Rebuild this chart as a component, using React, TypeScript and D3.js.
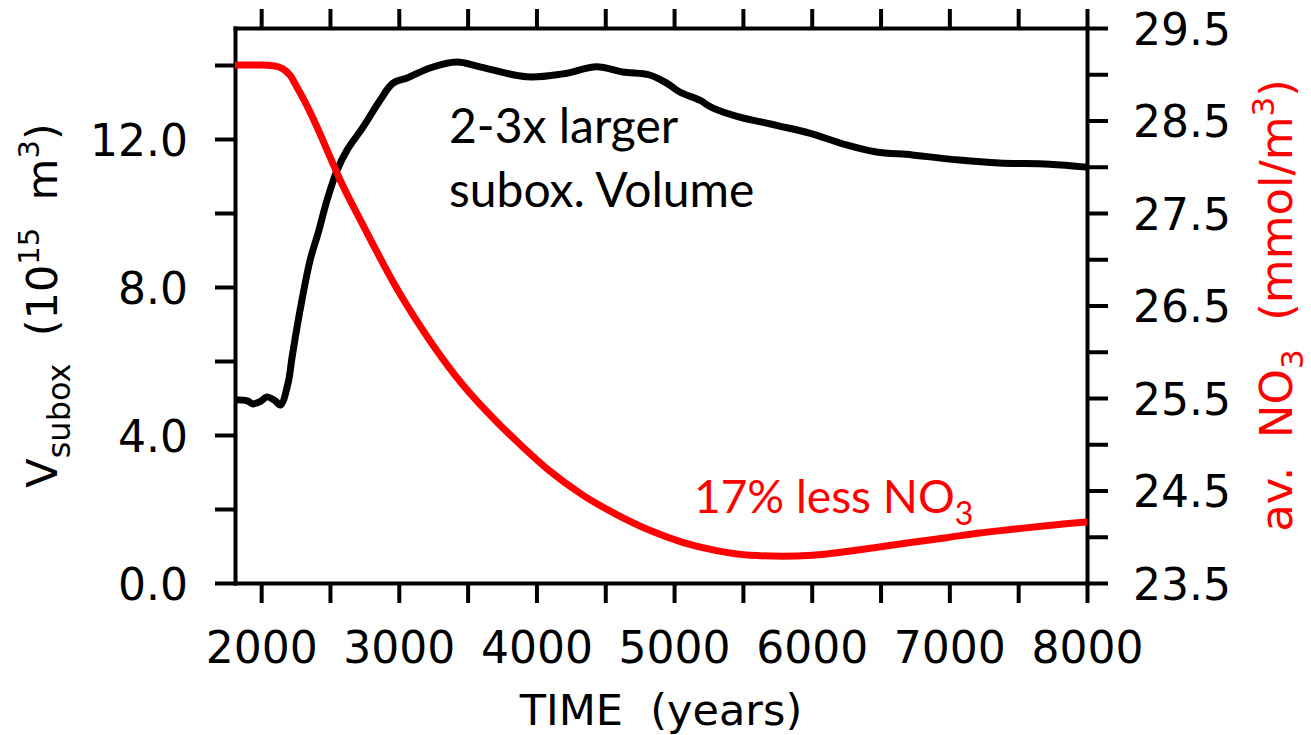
import React, { useEffect, useRef } from "react";
import * as d3 from "d3";

// suboxic volume (10^15 m^3)
const volYears = [1810, 1900, 1940, 2000, 2040, 2100, 2140, 2196, 2225, 2283, 2356, 2414, 2479, 2552, 2624, 2740, 2864, 2958, 3060, 3226, 3422, 3589, 3930, 4192, 4438, 4627, 4823, 4946, 5041, 5186, 5280, 5476, 5672, 5766, 5984, 6252, 6470, 6731, 7072, 7363, 7726, 8000];
const volValues = [4.95, 4.92, 4.84, 4.92, 5.03, 4.93, 4.81, 5.41, 6.11, 7.38, 8.73, 9.46, 10.35, 11.16, 11.7, 12.32, 13.05, 13.51, 13.65, 13.92, 14.08, 13.95, 13.68, 13.76, 13.95, 13.81, 13.73, 13.51, 13.27, 13.05, 12.84, 12.59, 12.43, 12.35, 12.16, 11.84, 11.65, 11.57, 11.43, 11.35, 11.32, 11.24];

// mean NO3 (mmol/m^3), red curve
const no3Years = [1810, 2000, 2100, 2210, 2260, 2283, 2406, 2479, 2573, 2740, 2987, 3226, 3466, 3713, 3880, 4097, 4337, 4583, 4823, 5062, 5309, 5549, 5788, 6006, 6253, 6492, 6731, 6978, 7218, 7457, 7704, 8000];
const no3Values = [29.1, 29.1, 29.09, 28.99, 28.86, 28.8, 28.43, 28.18, 27.86, 27.37, 26.68, 26.12, 25.64, 25.24, 25.0, 24.71, 24.45, 24.24, 24.07, 23.94, 23.85, 23.8, 23.79, 23.8, 23.84, 23.89, 23.94, 23.99, 24.04, 24.08, 24.12, 24.16];

const xTicks = [2000, 2500, 3000, 3500, 4000, 4500, 5000, 5500, 6000, 6500, 7000, 7500, 8000];
const xLabels = [2000, 3000, 4000, 5000, 6000, 7000, 8000];
const leftTicks = [0, 2, 4, 6, 8, 10, 12, 14];
const leftLabels = [0, 4, 8, 12];
const rightTicks = [23.5, 24, 24.5, 25, 25.5, 26, 26.5, 27, 27.5, 28, 28.5, 29, 29.5];
const rightLabels = [23.5, 24.5, 25.5, 26.5, 27.5, 28.5, 29.5];

const W = 1311;
const H = 735;
const box = { left: 235, right: 1087, top: 28, bottom: 583 };
const axisFont = "'DejaVu Sans', sans-serif";
const noteFont = "Lato, 'Open Sans', sans-serif";

export default function App() {
  const ref = useRef<SVGSVGElement>(null);

  useEffect(() => {
    const svg = d3.select(ref.current);
    svg.selectAll("*").remove();

    const x = d3.scaleLinear().domain([1810, 8000]).range([box.left, box.right]);
    const yL = d3.scaleLinear().domain([0, 15]).range([box.bottom, box.top]);
    const yR = d3.scaleLinear().domain([23.5, 29.5]).range([box.bottom, box.top]);

    const styleAxis = (g: any) => {
      g.selectAll(".domain").attr("stroke", "#000").attr("stroke-width", 4).attr("stroke-linecap", "square");
      g.selectAll(".tick line").attr("stroke", "#000").attr("stroke-width", 4);
      g.selectAll(".tick text")
        .attr("fill", "#000")
        .style("font-family", axisFont)
        .style("font-size", "44px");
    };

    // bottom
    const gB = svg
      .append("g")
      .attr("transform", `translate(0,${box.bottom})`)
      .call(
        d3.axisBottom(x)
          .tickValues(xTicks)
          .tickSize(20)
          .tickSizeOuter(0)
          .tickFormat((d: any) => (xLabels.includes(d) ? String(d) : ""))
      );
    styleAxis(gB);
    gB.selectAll(".tick text").attr("y", 80).attr("dy", 0);

    // top
    const gT = svg
      .append("g")
      .attr("transform", `translate(0,${box.top})`)
      .call(d3.axisTop(x).tickValues(xTicks).tickSize(19).tickSizeOuter(0).tickFormat(() => ""));
    styleAxis(gT);

    // left
    const gL = svg
      .append("g")
      .attr("transform", `translate(${box.left},0)`)
      .call(
        d3.axisLeft(yL)
          .tickValues(leftTicks)
          .tickSize(20)
          .tickSizeOuter(0)
          .tickPadding(27)
          .tickFormat((d: any) => (leftLabels.includes(d) ? d.toFixed(1) : ""))
      );
    styleAxis(gL);
    gL.selectAll(".tick text").attr("dy", "0.37em");

    // right
    const gR = svg
      .append("g")
      .attr("transform", `translate(${box.right},0)`)
      .call(
        d3.axisRight(yR)
          .tickValues(rightTicks)
          .tickSize(21)
          .tickSizeOuter(0)
          .tickPadding(25)
          .tickFormat((d: any) => (rightLabels.includes(d) ? d.toFixed(1) : ""))
      );
    styleAxis(gR);
    gR.selectAll(".tick text").attr("dy", "0.37em");

    // curves
    const volLine = d3
      .line<number>()
      .x((d, i) => x(volYears[i]))
      .y((d) => yL(d))
      .curve(d3.curveCatmullRom);
    svg
      .append("path")
      .attr("d", volLine(volValues))
      .attr("fill", "none")
      .attr("stroke", "#000")
      .attr("stroke-width", 7)
      .attr("stroke-linejoin", "round");

    const no3Line = d3
      .line<number>()
      .x((d, i) => x(no3Years[i]))
      .y((d) => yR(d))
      .curve(d3.curveMonotoneX);
    svg
      .append("path")
      .attr("d", no3Line(no3Values))
      .attr("fill", "none")
      .attr("stroke", "#ff0000")
      .attr("stroke-width", 7)
      .attr("stroke-linejoin", "round");

    // x title
    svg
      .append("text")
      .attr("x", (box.left + box.right) / 2)
      .attr("y", 725)
      .attr("text-anchor", "middle")
      .style("font-family", axisFont)
      .style("font-size", "43px")
      .style("white-space", "pre")
      .text("TIME  (years)");

    // left title
    const tl = svg
      .append("text")
      .attr("transform", `translate(57,${(box.top + box.bottom) / 2}) rotate(-90)`)
      .attr("text-anchor", "middle")
      .style("font-family", axisFont)
      .style("font-size", "43px")
      .style("white-space", "pre");
    tl.append("tspan").text("V");
    tl.append("tspan").attr("dy", 13).style("font-size", "32px").text("subox");
    tl.append("tspan").attr("dy", -13).text("  (10");
    tl.append("tspan").attr("dy", -18).style("font-size", "29px").text("15");
    tl.append("tspan").attr("dy", 18).text("  m");
    tl.append("tspan").attr("dy", -18).style("font-size", "29px").text("3");
    tl.append("tspan").attr("dy", 18).text(")");

    // right title
    const tr = svg
      .append("text")
      .attr("transform", `translate(1292,${(box.top + box.bottom) / 2}) rotate(-90)`)
      .attr("text-anchor", "middle")
      .attr("fill", "#ff0000")
      .style("font-family", axisFont)
      .style("font-size", "45px")
      .style("white-space", "pre");
    tr.append("tspan").text("av.  NO");
    tr.append("tspan").attr("dy", 11).style("font-size", "31px").text("3");
    tr.append("tspan").attr("dy", -11).text("  (mmol/m");
    tr.append("tspan").attr("dy", -18).style("font-size", "31px").text("3");
    tr.append("tspan").attr("dy", 18).text(")");

    // notes
    const n1 = svg
      .append("text")
      .style("font-family", noteFont)
      .style("font-size", "48px")
      .attr("fill", "#000");
    n1.append("tspan").attr("x", 449).attr("y", 143).text("2-3x larger");
    n1.append("tspan").attr("x", 449).attr("y", 207).text("subox. Volume");

    const n2 = svg
      .append("text")
      .attr("x", 694)
      .attr("y", 513)
      .style("font-family", noteFont)
      .style("font-size", "46px")
      .attr("fill", "#ff0000");
    n2.append("tspan").text("17% less NO");
    n2.append("tspan").attr("dy", 12).style("font-size", "32px").text("3");
  }, []);

  return (
    <svg
      ref={ref}
      width={W}
      height={H}
      style={{ position: "absolute", left: 0, top: 0, background: "#fff" }}
    />
  );
}
